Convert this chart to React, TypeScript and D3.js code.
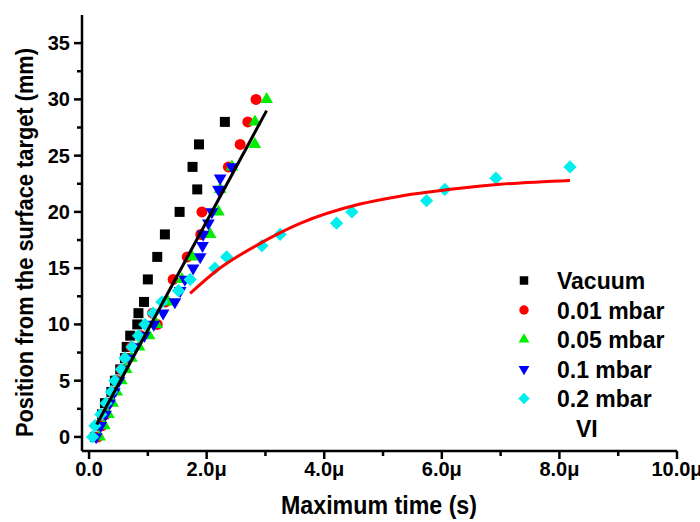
import React from "react";
import * as d3 from "d3";

const vacuumT = [0.10, 0.17, 0.22, 0.27, 0.38, 0.44, 0.53, 0.61, 0.64, 0.70, 0.82, 0.84, 0.935, 1.0, 1.16, 1.29, 1.54, 1.84, 1.76, 1.87, 2.31];
const vacuumV = [0, 1, 2, 3, 4, 5, 6, 7, 8, 9, 10, 11, 12, 14, 16, 18, 20, 22, 24, 26, 28];

const p001T = [0.15, 0.22, 0.28, 0.33, 0.40, 0.47, 0.55, 0.62, 0.72, 0.88, 1.16, 1.08, 1.30, 1.43, 1.67, 1.90, 1.92, 2.37, 2.57, 2.70, 2.84];
const p001V = [0, 1, 2, 3, 4, 5, 6, 7, 8, 9, 10, 11, 12, 14, 16, 18, 20, 24, 26, 28, 30];

const p005T = [0.18, 0.26, 0.33, 0.40, 0.47, 0.55, 0.63, 0.72, 0.85, 1.02, 1.15, 1.34, 1.58, 1.75, 2.06, 2.20, 2.23, 2.43, 2.82, 2.82, 3.02];
const p005V = [0, 1, 2, 3, 4, 5, 6, 7, 8, 9, 10, 12, 14, 16, 18, 20, 22, 24, 26, 28, 30];

const p01T = [0.12, 0.20, 0.28, 0.35, 0.43, 0.51, 0.59, 0.69, 0.80, 0.94, 1.10, 1.26, 1.46, 1.55, 1.63, 1.77, 1.89, 1.93, 1.94, 2.03, 2.09, 2.20, 2.23, 2.43];
const p01V = [0, 1, 2, 3, 4, 5, 6, 7, 8, 9, 10, 11, 12, 13, 14, 15, 16, 17, 18, 19, 20, 22, 23, 24];

const p02T = [0.06, 0.10, 0.20, 0.29, 0.38, 0.44, 0.55, 0.61, 0.73, 0.84, 0.95, 1.09, 1.24, 1.52, 1.72, 2.14, 2.34, 2.94, 3.25, 4.21, 4.47, 5.74, 6.05, 6.92, 8.18];
const p02V = [0, 1, 2, 3, 4, 5, 6, 7, 8, 9, 10, 11, 12, 13, 14, 15, 16, 17, 18, 19, 20, 21, 22, 23, 24];

// linear fit (black) endpoints
const fitLineT = [0.13, 3.02];
const fitLineV = [1.1, 29.0];

// saturation fit (red)
const fitCurveT = [1.72, 2.2, 2.91, 3.6, 4.61, 5.29, 6.31, 6.99, 8.18];
const fitCurveV = [12.76, 14.9, 17.2, 19.0, 20.7, 21.4, 22.1, 22.45, 22.8];

const xTicks = [0, 2, 4, 6, 8, 10];
const xTickLabels = ["0.0", "2.0μ", "4.0μ", "6.0μ", "8.0μ", "10.0μ"];
const xMinor = [1, 3, 5, 7, 9];
const yTicks = [0, 5, 10, 15, 20, 25, 30, 35];
const yMinor = [2.5, 7.5, 12.5, 17.5, 22.5, 27.5, 32.5];

const seriesNames = ["Vacuum", "0.01 mbar", "0.05 mbar", "0.1 mbar", "0.2 mbar"];
const seriesColors = ["#000000", "#ff0000", "#00ee00", "#0000ff", "#00eeee"];

const FONT = "'Liberation Sans', Arial, sans-serif";

export default function App() {
  const W = 700, H = 522;
  const x = d3.scaleLinear().domain([-0.12, 10]).range([82, 677]);
  const y = d3.scaleLinear().domain([-1.25, 37.5]).range([451, 15]);

  const series = [
    { t: vacuumT, v: vacuumV },
    { t: p001T, v: p001V },
    { t: p005T, v: p005V },
    { t: p01T, v: p01V },
    { t: p02T, v: p02V },
  ];

  const sym = (i: number, k: number) => {
    if (i === 0) return { d: d3.symbol(d3.symbolSquare, 100 * k * k)()!, rot: 0 };
    if (i === 1) return { d: d3.symbol(d3.symbolCircle, 95 * k * k)()!, rot: 0 };
    if (i === 2) return { d: d3.symbol(d3.symbolTriangle, 70 * k * k)()!, rot: 0 };
    if (i === 3) return { d: d3.symbol(d3.symbolTriangle, 70 * k * k)()!, rot: 180 };
    return { d: d3.symbol(d3.symbolSquare, 88 * k * k)()!, rot: 45 };
  };

  const line = d3.line<number>().x((_, i) => x(fitLineT[i])).y((v) => y(v));
  const curve = d3
    .line<number>()
    .x((_, i) => x(fitCurveT[i]))
    .y((v) => y(v))
    .curve(d3.curveMonotoneX);

  const legendX = 524, legendTextX = 557, legendY0 = 280.5, legendDy = 29.5;

  return (
    <svg width={W} height={H} style={{ position: "absolute", left: 0, top: 0, background: "#fff" }} fontFamily={FONT} fontWeight="bold">
      <rect width={W} height={H} fill="#fff" />
      {series.map((s, i) => {
        const m = sym(i, 1);
        return (
          <g key={i} fill={seriesColors[i]}>
            {s.t.map((t, j) => (
              <path key={j} d={m.d} transform={`translate(${x(t)},${y(s.v[j])}) rotate(${m.rot})`} />
            ))}
          </g>
        );
      })}
      <path d={line(fitLineV)!} fill="none" stroke="#000" strokeWidth={3} />
      <path d={curve(fitCurveV)!} fill="none" stroke="#ff0000" strokeWidth={3} />

      {/* axes */}
      <g stroke="#000" strokeWidth={2.5} fill="none">
        <line x1={82} y1={451} x2={677} y2={451} />
        <line x1={82} y1={451} x2={82} y2={15} />
        {xTicks.map((t) => (
          <line key={t} x1={x(t)} x2={x(t)} y1={451} y2={459} />
        ))}
        {xMinor.map((t) => (
          <line key={t} x1={x(t)} x2={x(t)} y1={451} y2={456} />
        ))}
        {yTicks.map((v) => (
          <line key={v} x1={74} x2={82} y1={y(v)} y2={y(v)} />
        ))}
        {yMinor.map((v) => (
          <line key={v} x1={77} x2={82} y1={y(v)} y2={y(v)} />
        ))}
      </g>
      <g fontSize={20} fill="#000">
        {xTicks.map((t, i) => (
          <text key={t} x={x(t)} y={476} textAnchor="middle">{xTickLabels[i]}</text>
        ))}
        {yTicks.map((v) => (
          <text key={v} x={70} y={y(v) + 7} textAnchor="end">{v}</text>
        ))}
      </g>
      <text x={379} y={514} textAnchor="middle" fontSize={25} textLength={196} lengthAdjust="spacingAndGlyphs" fill="#000">
        Maximum time (s)
      </text>
      <text transform="translate(33,242.5) rotate(-90)" textAnchor="middle" fontSize={24} textLength={389} lengthAdjust="spacingAndGlyphs" fill="#000">
        Position from the surface target (mm)
      </text>

      {/* legend */}
      {seriesNames.map((n, i) => {
        const m = sym(i, 0.85);
        const ly = legendY0 + i * legendDy;
        return (
          <g key={n}>
            <path d={m.d} fill={seriesColors[i]} transform={`translate(${legendX},${ly}) rotate(${m.rot})`} />
            <text x={legendTextX} y={ly + 8.5} fontSize={23} fill="#000">{n}</text>
          </g>
        );
      })}
      <text x={576} y={legendY0 + 5 * legendDy + 8.5} fontSize={23} fill="#000">VI</text>
    </svg>
  );
}
